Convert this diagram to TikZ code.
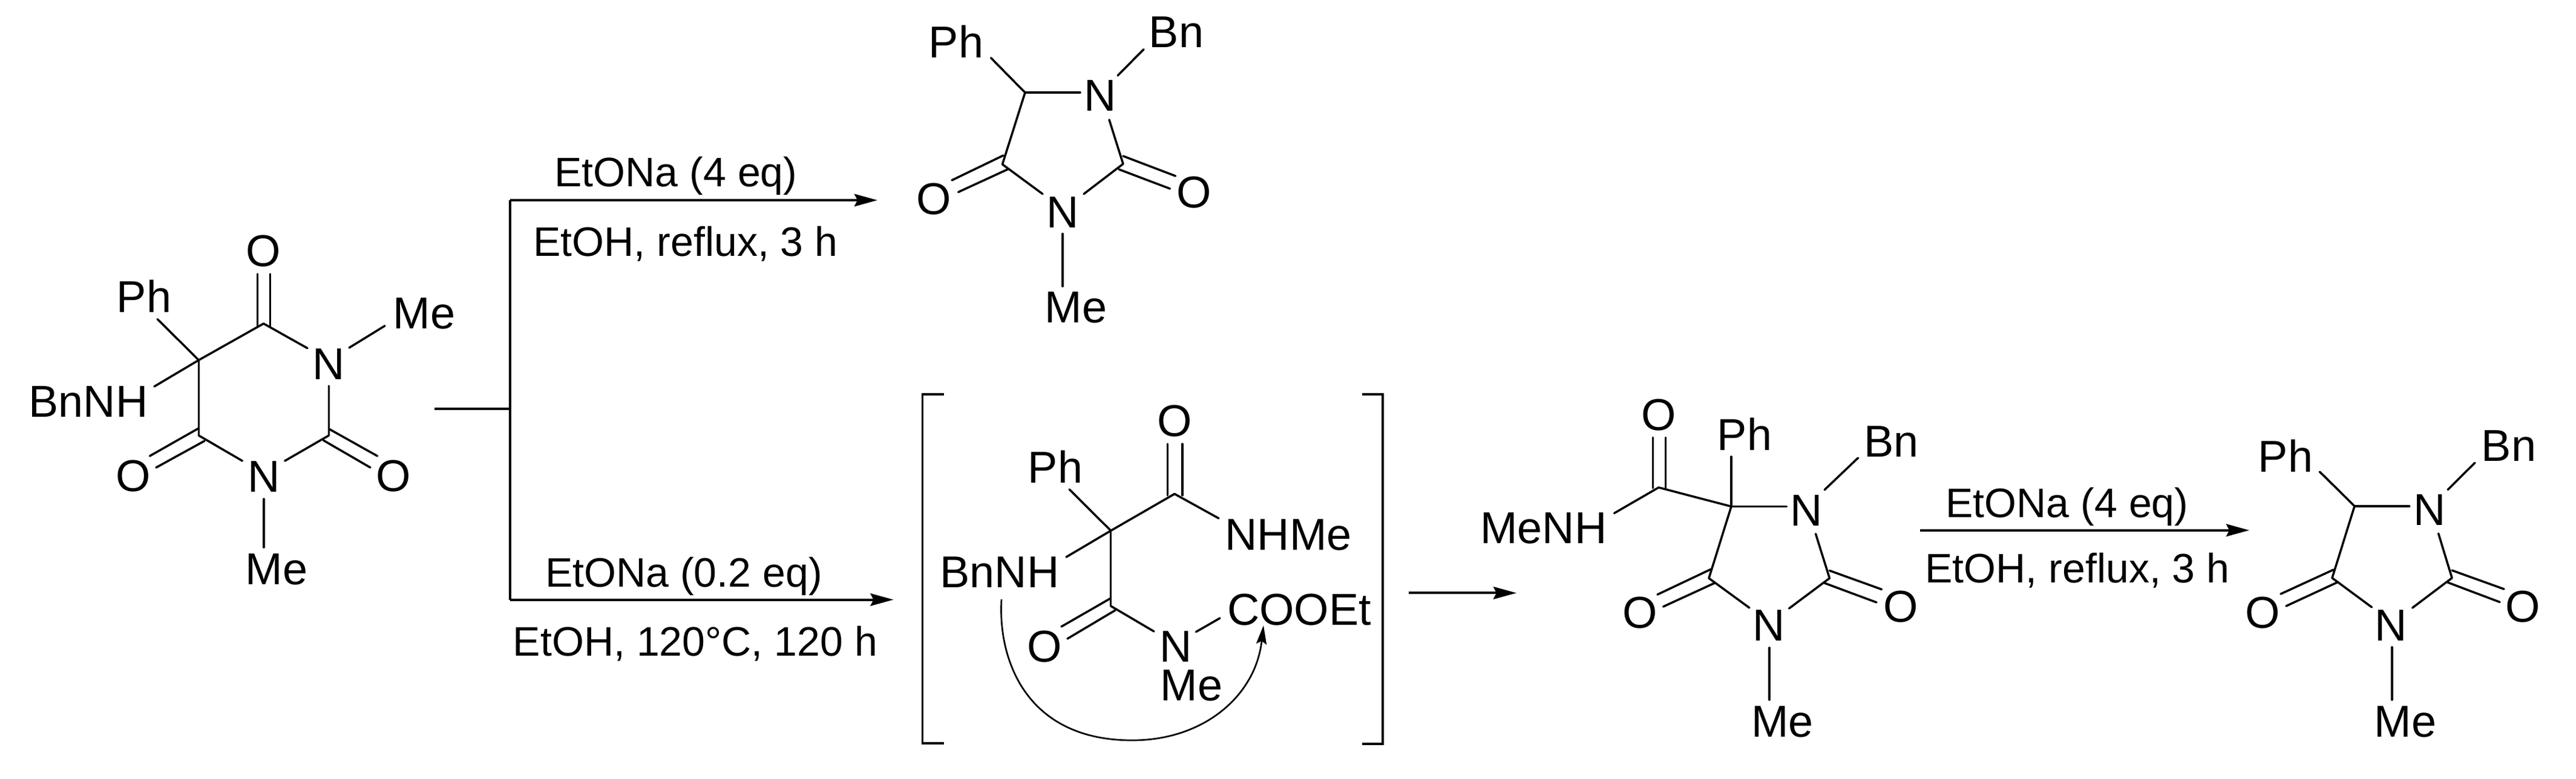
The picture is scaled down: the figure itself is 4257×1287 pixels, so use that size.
\documentclass[tikz,border=0pt]{standalone}
\usepackage{fontspec}
\setmainfont{Liberation Sans}
\usetikzlibrary{arrows.meta}
\tikzset{
  bond/.style={line width=1pt,line cap=round},
  rail/.style={line width=1.14pt,line cap=butt},
  rxn/.style={rail,-{Stealth[length=0.38cm,width=0.205cm,inset=0.05cm]}},
  bracket/.style={line width=0.9pt},
  curly/.style={line width=0.77pt,-{Stealth[length=0.31cm,width=0.17cm,inset=0.05cm]}},
  atom/.style={font=\fontsize{21}{24}\selectfont,anchor=base,inner sep=0pt,text=black},
  cond/.style={font=\fontsize{19.35}{23}\selectfont,anchor=base,inner sep=0pt,text=black}
}
\newcommand{\pts}[1]{\foreach \n/\xx/\yy in {#1} {\coordinate (\n) at (\xx,\yy);}}
\newcommand{\bonds}[1]{\foreach \a/\b in {#1} {\draw[bond] (\a) -- (\b);}}
\begin{document}
\begin{tikzpicture}[x=0.01cm,y=-0.01cm]
\useasboundingbox (0,0) rectangle (4257,1287);
% --- starting material
\node[atom] (aPh) at (238,516) {Ph};
\node[atom] (aMe) at (701,543) {Me};
\node[atom] (aBnNH) at (146,689) {BnNH};
\node[atom] (aOt) at (435.6,440) {O};
\node[atom] (aN1) at (543,627) {N};
\node[atom] (aOl) at (220,812) {O};
\node[atom] (aN3) at (436,813) {N};
\node[atom] (aOr) at (650.5,812) {O};
\node[atom] (aMb) at (457,966) {Me};
\pts{a5/328.4/595.4,a6/435.6/535,a2/543.4/720,a4/328.4/720,
 aPe/260/527.5,aBe/255/639,a1a/508/575.7,a1b/577/575,aMs/636/538.7,a1c/543.4/638,
 a3a/470.7/762,a3b/400.5/762,a3c/436/825,aMt/436/905,
 aOa/425.4/453,aOb/446.4/453,aOc/425.4/539,aOd/446.4/539,
 a4a/328.4/708,a4b/247.4/754,a4c/338/729,a4d/258/773,
 a2a/543.4/709,a2b/623.7/754,a2c/534.4/728,a2d/612/773}
\bonds{a5/aPe,a5/aBe,a5/a6,a6/a1a,a1b/aMs,a1c/a2,a2/a3a,a3b/a4,a4/a5,a3c/aMt,
 aOa/aOc,aOb/aOd,a4a/a4b,a4c/a4d,a2a/a2b,a2c/a2d}
% --- branching connector
\pts{jS/717.5/675.7,jM/843/675.7,jT/843/331,jB/843/991.5,jTe/1450/331,jBe/1476.5/991.5}
\draw[rail] (jS) -- (jM);
\draw[rail,line cap=square] (jT) -- (jB);
\draw[rxn] (jT) -- (jTe);
\draw[rxn] (jB) -- (jBe);
\node[cond] (c1) at (1117,308) {EtONa (4 eq)};
\node[cond] (c2) at (1133,423) {EtOH, reflux, 3 h};
\node[cond] (c3) at (1130,970) {EtONa (0.2 eq)};
\node[cond] (c4) at (1149,1084) {EtOH, 120°C, 120 h};
% --- upper product
\node[atom] (bPh) at (1580,95.7) {Ph};
\node[atom] (bN1) at (1818,183.7) {N};
\node[atom] (bBn) at (1944,78.5) {Bn};
\node[atom] (bN3) at (1756,376) {N};
\node[atom] (bOl) at (1543,354) {O};
\node[atom] (bOr) at (1973,343.5) {O};
\node[atom] (bMe) at (1778,533) {Me};
\pts{b5/1694/153,b2/1856/271,b4/1656.5/271.7,
 bPe/1637.5/95.7,b1a/1785/153,b1b/1847/125,bBe/1890/81.5,b1c/1833/198,
 b3a/1791/320.7,b3b/1723/320.7,b3c/1756/386.5,bMt/1756/473.4,
 b4a/1658/257,b4b/1573/298,b4c/1666.5/279.4,b4d/1583.6/317.6,
 b2a/1856/258,b2b/1942.6/291,b2c/1849/280,b2d/1933.5/312}
\bonds{b5/bPe,b5/b1a,b1b/bBe,b1c/b2,b2/b3a,b3b/b4,b4/b5,b3c/bMt,b4a/b4b,b4c/b4d,b2a/b2b,b2c/b2d}
% --- brackets
\pts{kLa/1560/652,kLb/1524.5/652,kLc/1524.5/1229,kLd/1560/1229,
 kRa/2251/652,kRb/2285/652,kRc/2285/1230,kRd/2251/1230}
\draw[bracket] (kLa) -- (kLb) -- (kLc) -- (kLd);
\draw[bracket] (kRa) -- (kRb) -- (kRc) -- (kRd);
% --- intermediate
\node[atom] (iO) at (1941,721) {O};
\node[atom] (iPh) at (1744,798) {Ph};
\node[atom] (iNHMe) at (2129,909.4) {NHMe};
\node[atom] (iBnNH) at (1652,971) {BnNH};
\node[atom] (iOb) at (1726.5,1094) {O};
\node[atom] (iN) at (1943,1094.5) {N};
\node[atom] (iMe) at (1969,1158) {Me};
\node[atom] (iCOOEt) at (2147,1033) {COOEt};
\pts{iC/1835.7/877.4,iU/1941/816.6,iD/1835.7/1002,
 iOa/1929.6/734,iOc/1929.6/819,iOd/1954/734,iOe/1954/819,
 iPe/1767/809,iNe/2014/857,iBe/1762/921,
 iFa/1835.7/989,iFb/1754/1036,iFc/1843/1009,iFd/1764/1056,
 iNa/1907/1044,iNb/1976.5/1044.7,iNc/2016/1022,
 iCs/1655/991,iCm/1871/1224,iCe/2088/1034,
 iC1/1649/1090,iC2/1695/1224,iC3/1990/1224,iC4/2075/1150}
\bonds{iC/iU,iOa/iOc,iOd/iOe,iC/iPe,iU/iNe,iC/iBe,iC/iD,iFa/iFb,iFc/iFd,iD/iNa,iNb/iNc}
\draw[curly] (iCs) .. controls (iC1) and (iC2) .. (iCm) .. controls (iC3) and (iC4) .. (iCe);
% --- arrow to hydantoin
\pts{rS/2327.6/980.4,rE/2506/980.4}
\draw[rxn] (rS) -- (rE);
% --- hydantoin amide
\node[atom] (hO) at (2741,711) {O};
\node[atom] (hMeNH) at (2551,898.7) {MeNH};
\node[atom] (hPh) at (2883,744) {Ph};
\node[atom] (hN1) at (2985,869) {N};
\node[atom] (hBn) at (3125.6,755) {Bn};
\node[atom] (hN3) at (2923,1059.6) {N};
\node[atom] (hOl) at (2710,1038) {O};
\node[atom] (hOr) at (3141,1028) {O};
\node[atom] (hMe) at (2945.6,1218) {Me};
\pts{h5/2861/837.4,hA/2741/806,h2/3023.4/956,h4/2824/956,
 hOa/2731.4/723.4,hOb/2731.4/807,hOc/2752.4/723.4,hOd/2752.4/807,
 hAe/2667.6/848.5,hPe/2861/755,h1a/2952.6/837.4,h1b/3015/810,hBe/3070.6/757,h1c/3000.5/882.6,
 h3a/2956.5/1006,h3b/2891/1005,h3c/2924/1071,hMt/2924/1157,
 h4a/2827/941.3,h4b/2739/983,h4c/2833.4/964,h4d/2748.6/1003,
 h2a/3023.4/943.4,h2b/3109.6/974.5,h2c/3015/964,h2d/3101/996}
\bonds{h5/hA,hOa/hOb,hOc/hOd,hA/hAe,h5/hPe,h5/h1a,h1b/hBe,h1c/h2,h2/h3a,h3b/h4,h4/h5,h3c/hMt,h4a/h4b,h4c/h4d,h2a/h2b,h2c/h2d}
% --- last step
\pts{sS/3173/876.7,sE/3717/876.7}
\draw[rxn] (sS) -- (sE);
\node[cond] (c5) at (3416,855) {EtONa (4 eq)};
\node[cond] (c6) at (3433,963.8) {EtOH, reflux, 3 h};
% --- final product
\node[atom] (pPh) at (3777,780.7) {Ph};
\node[atom] (pN1) at (4015,868.5) {N};
\node[atom] (pBn) at (4146,762.5) {Bn};
\node[atom] (pN3) at (3951,1059.4) {N};
\node[atom] (pOl) at (3739.5,1038) {O};
\node[atom] (pOr) at (4169,1028.6) {O};
\node[atom] (pMe) at (3975,1218) {Me};
\pts{p5/3891/836.8,p2/4052/955.6,p4/3854/955.6,
 pPe/3833.4/780,p1a/3981.6/836.8,p1b/4045/809.7,pBe/4090/765,p1c/4029.6/882,
 p3a/3986.6/1005,p3b/3919.5/1004,p3c/3952.7/1070,pMt/3952.7/1157,
 p4a/3856/942,p4b/3769/982,p4c/3863/962.6,p4d/3778/1002,
 p2a/4052/943,p2b/4138/974,p2c/4045/963,p2d/4131/995.5}
\bonds{p5/pPe,p5/p1a,p1b/pBe,p1c/p2,p2/p3a,p3b/p4,p4/p5,p3c/pMt,p4a/p4b,p4c/p4d,p2a/p2b,p2c/p2d}
\end{tikzpicture}
\end{document}
